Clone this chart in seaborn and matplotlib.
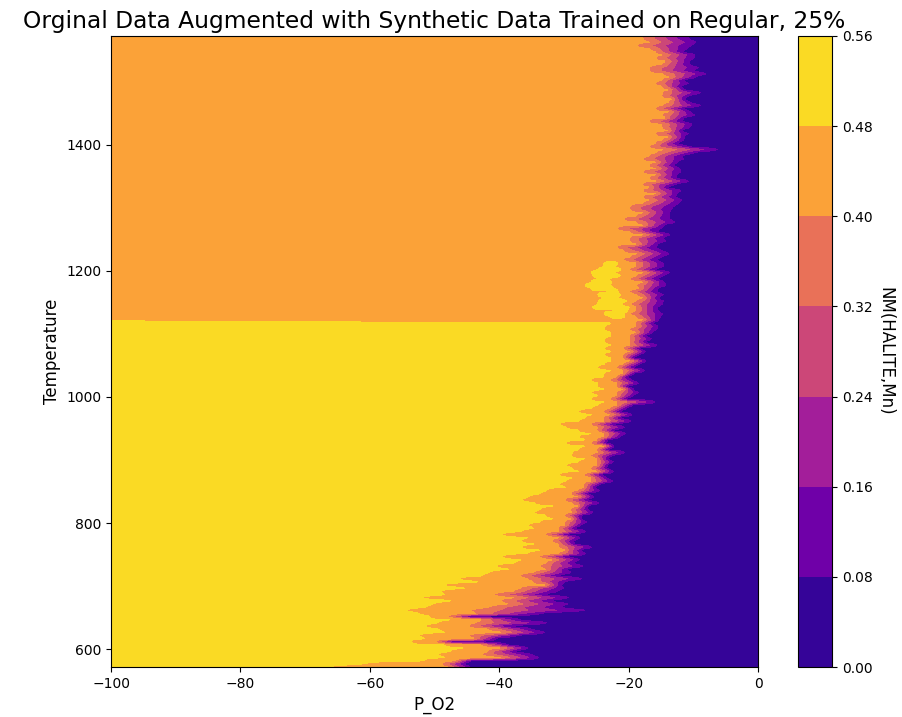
import numpy as np
import matplotlib
matplotlib.use("Agg")
import matplotlib.pyplot as plt
import seaborn as sns

# ---- model predictions, one row per 5 K temperature step ----
# Lower rows (572 K .. 1117 K): yellow plateau, orange shoulder, drop to ~0
low_yellow_end = [
    -68, -62, -52, -49, -50, -48, -46, -49, -54, -52,
    -53, -49, -50, -52, -50, -48, -51, -53, -55, -52,
    -51, -48, -53, -49, -50, -46, -50, -44, -47, -43,
    -42, -39, -41, -38, -37, -40, -36, -34, -37, -35,
    -37, -36, -40, -37, -35, -36, -34, -32, -33, -35,
    -34, -32, -35, -37, -36, -34, -33, -30, -31, -30,
    -29, -31, -28, -29, -30, -28, -27, -29, -29, -28,
    -27, -30, -27, -28, -26, -28, -30, -31, -28, -27,
    -26, -28, -26, -25, -24, -26, -25, -26, -24, -25,
    -25, -26, -24, -24, -23, -25, -24, -23, -23, -24,
    -23, -24, -23, -24, -24, -23, -23, -24, -24, -23]
low_orange_end = [
    -48, -49, -47, -40, -43, -42, -40, -43, -50, -44,
    -45, -40, -42, -45, -44, -43, -48, -44, -45, -42,
    -39, -40, -38, -41, -38, -37, -33, -35, -36, -37,
    -35, -33, -34, -33, -32, -34, -31, -30, -31, -31,
    -32, -31, -33, -31, -31, -30, -30, -29, -30, -29,
    -29, -28, -29, -30, -28, -29, -28, -27, -27, -26,
    -26, -27, -25, -26, -25, -25, -25, -26, -25, -25,
    -24, -26, -25, -24, -24, -25, -25, -26, -24, -24,
    -23, -24, -23, -22, -22, -23, -22, -22, -21, -22,
    -22, -23, -22, -21, -21, -22, -21, -20, -21, -21,
    -20, -21, -20, -20, -20, -20, -19, -20, -19, -19]
low_dark_start = [
    -44, -45, -44, -33, -34, -37, -35, -38, -47, -40,
    -36, -32, -34, -38, -31, -36, -44, -32, -24, -29,
    -28, -31, -28, -32, -30, -29, -30, -29, -26, -30,
    -28, -29, -26, -28, -27, -29, -26, -27, -25, -28,
    -28, -27, -29, -26, -28, -27, -26, -27, -27, -25,
    -26, -26, -24, -26, -25, -26, -24, -25, -24, -22,
    -23, -24, -22, -23, -23, -22, -23, -22, -20, -23,
    -22, -23, -23, -21, -20, -22, -20, -22, -19, -21,
    -19, -21, -20, -19, -15, -20, -19, -18, -19, -20,
    -18, -19, -20, -19, -17, -19, -18, -17, -19, -18,
    -17, -18, -15, -17, -16, -17, -16, -15, -15, -16]

# Upper rows (1122 K .. 1572 K): orange plateau, drop to ~0
up_orange_end = [
    -18, -19, -20, -19, -19, -20, -19, -18, -19, -20,
    -18.5, -19, -18, -20, -19, -18, -20, -19, -19, -21,
    -20, -19, -21, -22, -19, -20, -20, -18, -20, -22,
    -18, -19, -21, -19, -18, -20, -20, -18, -17, -18,
    -16, -18, -17, -18, -16, -17, -16, -18, -16, -17,
    -16, -18, -17, -16, -15, -17, -16, -15, -14, -16,
    -14, -15, -15, -17, -14.5, -15, -14, -16, -15, -14,
    -13.5, -15, -15, -14, -15, -16, -15, -14, -15, -17,
    -17, -15, -14.5, -16, -15, -16, -17, -19, -17, -18,
    -18]
up_dark_start = [
    -15, -14.5, -14, -15, -15, -14, -14, -15, -14, -15,
    -15, -13.5, -14, -15, -14, -13, -15.5, -14, -14, -15,
    -14, -13, -14, -15, -15, -13.5, -14, -13, -15, -14,
    -14, -12, -12.5, -13, -13, -12.5, -12, -11.5, -11, -12,
    -12, -11, -13.5, -12, -10, -12, -12, -11, -11.5, -12.5,
    -12, -10.5, -11, -9, -5, -10, -12, -11, -11, -10,
    -11.5, -10, -9.5, -11, -11, -9, -10, -11, -8, -10,
    -11, -10, -8, -11, -11.5, -10, -11, -9, -7, -9,
    -8, -10, -10, -9, -9, -11, -10, -9, -8.5, -9.5,
    -10]
# Yellow patches inside the orange plateau (rows 1127 K .. 1212 K)
patch_lo = [-23, -24, -22.5, -26, -25, -25, -24, -25, -23.5, -26,
            -27, -26, -25, -25.7, -26, -25, -24, -24]
patch_hi = [-20.5, -20.5, -20, -19.5, -21, -20, -21.5, -21, -21.5, -22,
            -22.5, -22.5, -23, -21, -22, -21, -22, -21.5]

yellow_val, orange_val, low_val = 0.52, 0.465, 0.03
levels = [0.00, 0.08, 0.16, 0.24, 0.32, 0.40, 0.48, 0.56]

# ---- build the prediction grid ----
p_o2 = np.linspace(-100, 0, 801)
temps = np.arange(572, 1573, 5)
rows = []
for y, o, d in zip(low_yellow_end, low_orange_end, low_dark_start):
    rows.append(np.interp(p_o2, [-100, y, o, d, 0],
                          [yellow_val, 0.485, 0.41, low_val, low_val]))
for i, (o, d) in enumerate(zip(up_orange_end, up_dark_start)):
    if 1 <= i <= len(patch_lo):
        lo, hi = patch_lo[i - 1], patch_hi[i - 1]
        w = hi - lo
        xp = [-100, lo, lo + 0.25 * w, hi - 0.25 * w, hi, o, d, 0]
        fp = [orange_val, orange_val, 0.53, 0.53, orange_val, 0.41,
              low_val, low_val]
    else:
        xp = [-100, o, d, 0]
        fp = [orange_val, 0.41, low_val, low_val]
    rows.append(np.interp(p_o2, xp, fp))
Z = np.vstack(rows)
X, Y = np.meshgrid(p_o2, temps[:Z.shape[0]])

# ---- draw ----
sns.set_style("ticks")
plt.rcParams["font.family"] = ["DejaVu Sans"]
plt.rcParams["text.color"] = "black"
plt.rcParams["axes.labelcolor"] = "black"
cmap = sns.color_palette("plasma", as_cmap=True)

fig = plt.figure(figsize=(9.02, 7.17), dpi=100)
ax = fig.add_axes([0.1231, 0.0697, 0.7173, 0.8801])
cax = fig.add_axes([0.8847, 0.0697, 0.0377, 0.8801])

cs = ax.contourf(X, Y, Z, levels=levels, cmap=cmap)
ax.set_xlim(-100, 0)
ax.set_ylim(572, 1572)
ax.set_xticks([-100, -80, -60, -40, -20, 0])
ax.set_yticks([600, 800, 1000, 1200, 1400])
ax.tick_params(labelsize=10, colors="black", length=3.5)
for s in ax.spines.values():
    s.set_color("black")
    s.set_linewidth(0.8)
ax.set_xlabel("P_O2", fontsize=12)
ax.set_ylabel("Temperature", fontsize=12)
ax.set_title("Orginal Data Augmented with Synthetic Data Trained on Regular, 25%",
             fontsize=16.8)

cbar = fig.colorbar(cs, cax=cax, ticks=levels, format="%.2f")
cbar.ax.tick_params(labelsize=10, colors="black", length=3.5)
cbar.outline.set_edgecolor("black")
cbar.outline.set_linewidth(0.8)
cbar.set_label("NM(HALITE,Mn)", rotation=270, labelpad=16, fontsize=12)

fig.savefig("out.png", dpi=100)
